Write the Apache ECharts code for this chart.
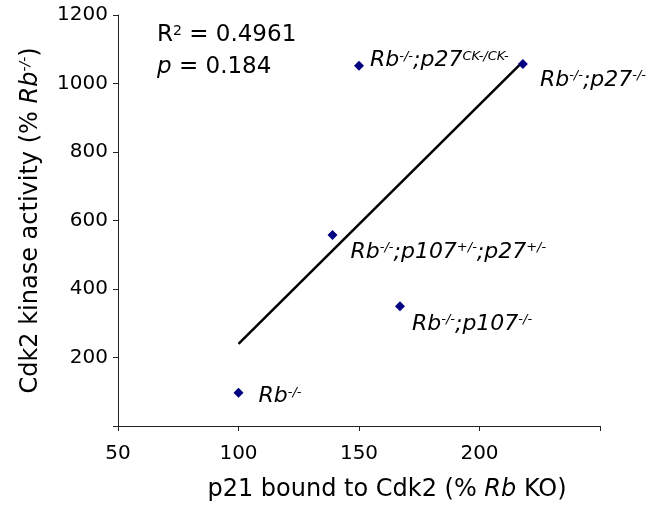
<!DOCTYPE html>
<html>
<head>
<meta charset="utf-8">
<script src="https://cdn.jsdelivr.net/npm/echarts@6/dist/echarts.min.js"></script>
<style>
  html, body { margin: 0; padding: 0; background: #fff; }
  #chart { width: 665px; height: 508px; }
</style>
</head>
<body>
<div id="chart"></div>
<script>
// genotypes, p21 bound (x) and Cdk2 activity (y)
var genotypes = ['Rb-/-', 'Rb-/-;p27CK-/CK-', 'Rb-/-;p27-/-', 'Rb-/-;p107+/-;p27+/-', 'Rb-/-;p107-/-']
var p21Bound = [100, 150, 218, 139, 167]
var cdk2Activity = [97, 1052, 1057, 558, 350]
// regression line ends
var trendX = [100, 218]
var trendY = [240, 1064]
var xTicks = [50, 100, 150, 200]
var yTicks = [200, 400, 600, 800, 1000, 1200]
var rSquared = '0.4961'
var pValue = '0.184'

// label text pieces per point: [main, sup] pairs
var labelParts = [
  [['Rb', '-/-']],
  [['Rb', '-/-'], [';p27', 'CK-/CK-']],
  [['Rb', '-/-'], [';p27', '-/-']],
  [['Rb', '-/-'], [';p107', '+/-'], [';p27', '+/-']],
  [['Rb', '-/-'], [';p107', '-/-']]
]
// label offsets (layout only)
var labelOffsets = [[10, 4], [1, -5], [7, 16], [8, 17], [2, 18]]

var FONT = 'DejaVu Sans'
var myChart = echarts.init(document.getElementById('chart'))

function richLabel (parts) {
  return parts.map(function (p) {
    return '{m|' + p[0] + '}{s|' + p[1] + '}'
  }).join('')
}

var scatterData = p21Bound.map(function (x, i) {
  return {
    name: genotypes[i],
    value: [x, cdk2Activity[i]],
    label: {
      show: true,
      position: 'right',
      offset: labelOffsets[i],
      formatter: richLabel(labelParts[i])
    }
  }
})

var trendData = trendX.map(function (x, i) {
  return [x, trendY[i]]
})

var labelRich = {
  m: { fontFamily: FONT, fontStyle: 'italic', fontSize: 22, color: '#000', lineHeight: 22, verticalAlign: 'middle' },
  s: { fontFamily: FONT, fontStyle: 'italic', fontSize: 13, color: '#000', lineHeight: 13, verticalAlign: 'top' }
}

var supText = function (main, sup, size, italicMain) {
  return {
    n: { fontFamily: FONT, fontSize: size, fill: '#000', lineHeight: size },
    i: { fontFamily: FONT, fontSize: size, fontStyle: 'italic', fill: '#000', lineHeight: size },
    s: { fontFamily: FONT, fontSize: Math.round(size * 0.6), fill: '#000', lineHeight: size, verticalAlign: 'top' }
  }
}

var option = {
  animation: false,
  backgroundColor: '#fff',
  grid: { left: 118, top: 15, right: 65, bottom: 82, containLabel: false },
  xAxis: {
    type: 'value',
    min: 50,
    max: 250,
    interval: 50,
    splitLine: { show: false },
    axisLine: { lineStyle: { color: '#222', width: 1 } },
    axisTick: { show: true, length: 5, lineStyle: { color: '#222' } },
    axisLabel: {
      fontFamily: FONT, fontSize: 20, color: '#000', margin: 18,
      formatter: function (v) { return xTicks.indexOf(v) >= 0 ? String(v) : '' }
    },
    name: 'p21 bound to Cdk2 (% {i|Rb} KO)',
    nameLocation: 'middle',
    nameGap: 52,
    nameTextStyle: {
      fontFamily: FONT, fontSize: 24, color: '#000', padding: [0, 0, 0, 56],
      rich: { i: { fontFamily: FONT, fontSize: 24, fontStyle: 'italic', color: '#000' } }
    }
  },
  yAxis: {
    type: 'value',
    min: 0,
    max: 1200,
    interval: 200,
    splitLine: { show: false },
    axisLine: { show: true, lineStyle: { color: '#222', width: 1 } },
    axisTick: { show: true, length: 5, lineStyle: { color: '#222' } },
    axisLabel: {
      fontFamily: FONT, fontSize: 20, color: '#000', margin: 10,
      formatter: function (v) { return yTicks.indexOf(v) >= 0 ? String(v) : '' }
    },
    name: 'Cdk2 kinase activity (% {i|Rb}{s|-/-})',
    nameLocation: 'middle',
    nameGap: 74,
    nameTextStyle: {
      fontFamily: FONT, fontSize: 24, color: '#000', lineHeight: 26,
      rich: {
        i: { fontFamily: FONT, fontSize: 24, fontStyle: 'italic', color: '#000', lineHeight: 26 },
        s: { fontFamily: FONT, fontSize: 14, fontStyle: 'italic', color: '#000', lineHeight: 14, verticalAlign: 'top' }
      }
    }
  },
  graphic: [{
    type: 'text',
    left: 157,
    top: 24,
    style: {
      text: '{n|R}{s|2}{n| = ' + rSquared + '}',
      rich: supText(null, null, 23)
    }
  }, {
    type: 'text',
    left: 157,
    top: 56,
    style: {
      text: '{i|p}{n| = ' + pValue + '}',
      rich: supText(null, null, 23)
    }
  }],
  series: [{
    type: 'line',
    data: trendData,
    showSymbol: false,
    symbol: 'none',
    lineStyle: { color: '#000', width: 2.5 },
    silent: true,
    z: 1
  }, {
    type: 'scatter',
    data: scatterData,
    symbol: 'diamond',
    symbolSize: 10,
    itemStyle: { color: '#000080', opacity: 1 },
    label: { color: '#000', rich: labelRich },
    z: 2
  }]
}
myChart.setOption(option)
</script>
</body>
</html>
